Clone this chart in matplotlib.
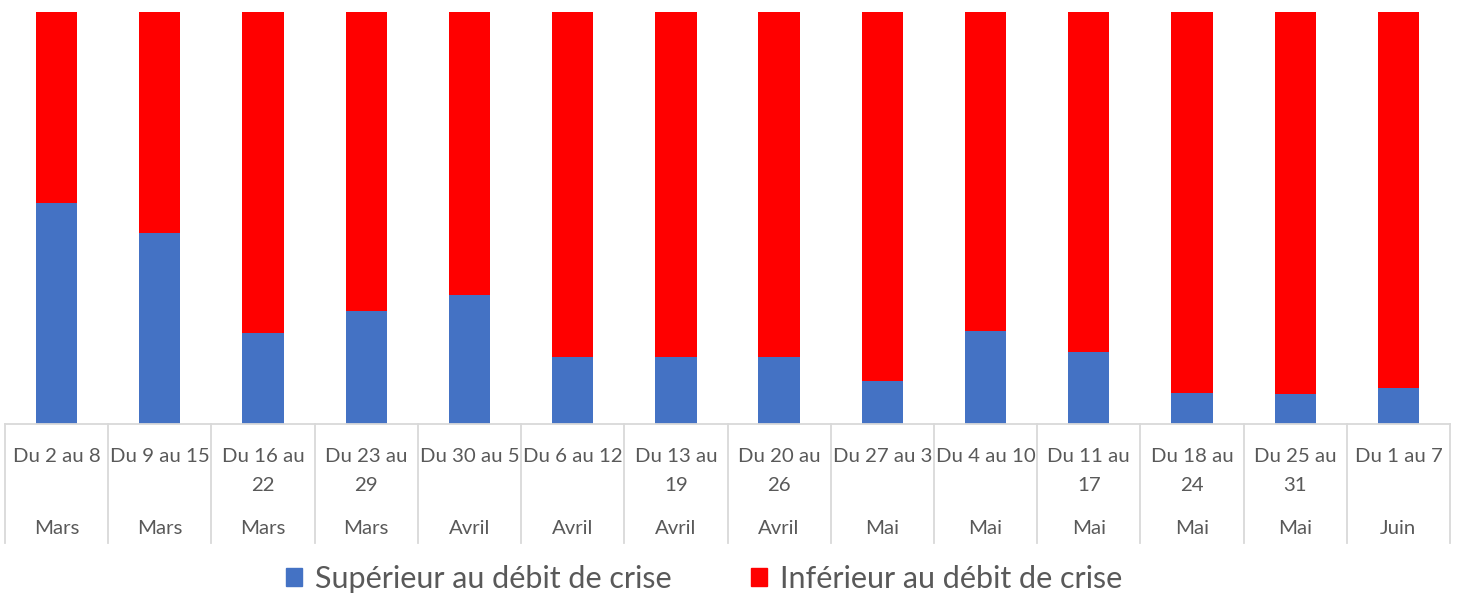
import numpy as np
import matplotlib.pyplot as plt
from matplotlib.patches import Patch
import matplotlib.transforms as mtransforms

plt.rcParams['font.family'] = ['Lato', 'DejaVu Sans']

weeks = ["Du 2 au 8", "Du 9 au 15", "Du 16 au\n22", "Du 23 au\n29", "Du 30 au 5",
         "Du 6 au 12", "Du 13 au\n19", "Du 20 au\n26", "Du 27 au 3", "Du 4 au 10",
         "Du 11 au\n17", "Du 18 au\n24", "Du 25 au\n31", "Du 1 au 7"]
months = ["Mars", "Mars", "Mars", "Mars", "Avril", "Avril", "Avril", "Avril",
          "Mai", "Mai", "Mai", "Mai", "Mai", "Juin"]
superieur = [0.536, 0.464, 0.221, 0.274, 0.313, 0.163, 0.163, 0.163,
             0.104, 0.226, 0.175, 0.075, 0.073, 0.087]
inferieur = [1 - v for v in superieur]

blue = "#4472C4"
red = "#FF0000"
txt = "#595959"
grid = "#D9D9D9"

W, H = 1457, 595
fig = plt.figure(figsize=(W / 100, H / 100), dpi=100)
ax = fig.add_axes([5 / W, 1 - 424 / H, 1445 / W, 412 / H])

x = np.arange(len(weeks))
ax.bar(x, superieur, width=0.4, color=blue)
ax.bar(x, inferieur, width=0.4, bottom=superieur, color=red)

ax.set_xlim(-0.5, len(weeks) - 0.5)
ax.set_ylim(0, 1)
for s in ["top", "right", "left"]:
    ax.spines[s].set_visible(False)
ax.spines["bottom"].set_color(grid)
ax.spines["bottom"].set_linewidth(1.3)
ax.set_xticks([])
ax.set_yticks([])

trans = mtransforms.blended_transform_factory(ax.transData, ax.transAxes)
px = 1 / 412.0
for i in range(len(weeks) + 1):
    ax.plot([i - 0.5, i - 0.5], [0, -(543 - 424) * px], color=grid, lw=1.3,
            transform=trans, clip_on=False)
for i, (w, m) in enumerate(zip(weeks, months)):
    ax.text(i, -(448 - 424) * px, w, transform=trans, ha="center", va="top",
            fontsize=14.7, color=txt, linespacing=1.85)
    ax.text(i, -(528 - 424) * px, m, transform=trans, ha="center", va="center",
            fontsize=14.7, color=txt)

handles = [Patch(color=blue, label="Supérieur au débit de crise"),
           Patch(color=red, label="Inférieur au débit de crise")]
fig.legend(handles=handles, loc="center", bbox_to_anchor=(0.483, 1 - 579 / H),
           ncol=2, frameon=False, fontsize=22, labelcolor=txt,
           handlelength=0.55, handleheight=0.55, handletextpad=0.4, columnspacing=2.6)

fig.savefig("out.png", dpi=100)
